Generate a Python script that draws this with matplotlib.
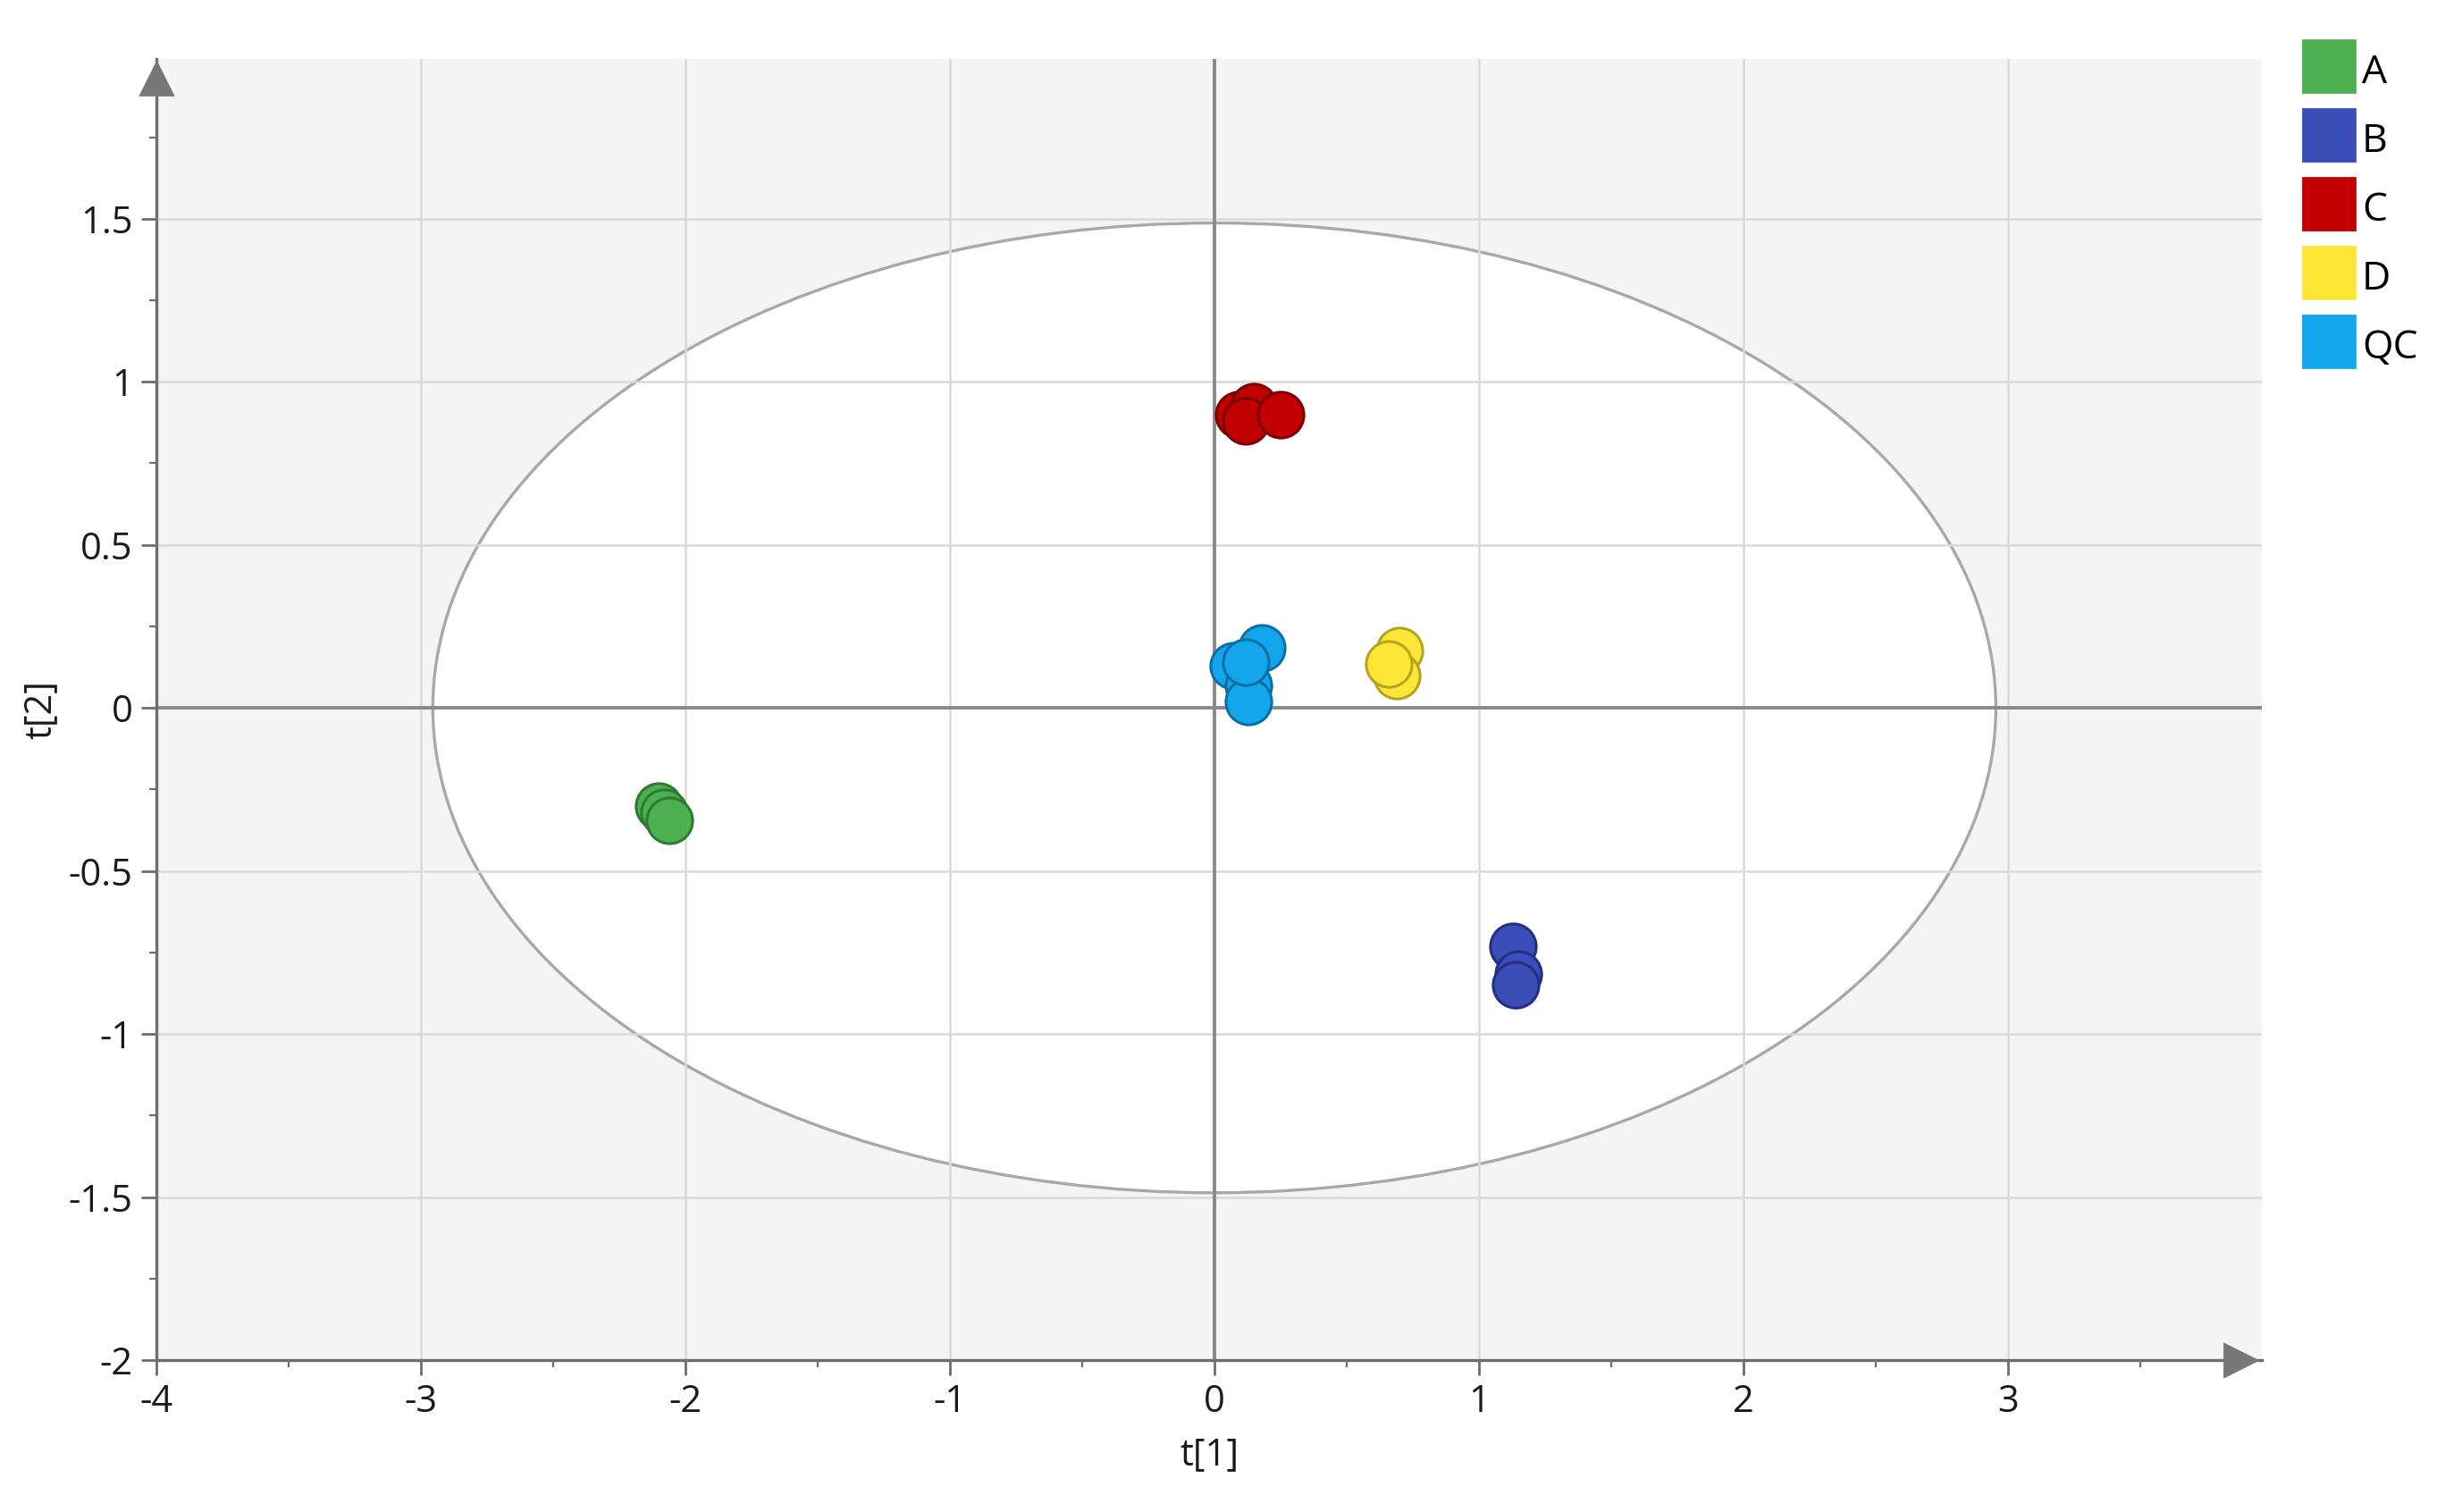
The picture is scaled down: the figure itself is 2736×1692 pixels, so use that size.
import matplotlib
matplotlib.use("Agg")
import matplotlib.pyplot as plt
from matplotlib.patches import Ellipse
from matplotlib.lines import Line2D
from matplotlib.ticker import MultipleLocator

plt.rcParams['font.family'] = ['Open Sans', 'DejaVu Sans']
plt.rcParams['axes.unicode_minus'] = False

# score values
groups = ['A', 'B', 'C', 'D', 'QC']
t1 = {
    'A': [-2.10, -2.08, -2.06],
    'B': [1.13, 1.15, 1.14],
    'C': [0.09, 0.15, 0.12, 0.25],
    'D': [0.70, 0.69, 0.66],
    'QC': [0.18, 0.07, 0.13, 0.13, 0.12],
}
t2 = {
    'A': [-0.30, -0.32, -0.345],
    'B': [-0.73, -0.815, -0.85],
    'C': [0.90, 0.925, 0.88, 0.90],
    'D': [0.175, 0.10, 0.134],
    'QC': [0.185, 0.13, 0.07, 0.02, 0.14],
}
colors = {'A': '#4cb050', 'B': '#3b4db8', 'C': '#c20000', 'D': '#fde636', 'QC': '#14a6ec'}
edges = {'A': '#2e7a32', 'B': '#232f80', 'C': '#7a0000', 'D': '#b5a420', 'QC': '#0a6fa3'}

x_ticks = [-4, -3, -2, -1, 0, 1, 2, 3]
x_labels = ['-4', '-3', '-2', '-1', '0', '1', '2', '3']
y_ticks = [-2, -1.5, -1, -0.5, 0, 0.5, 1, 1.5]
y_labels = ['-2', '-1.5', '-1', '-0.5', '0', '0.5', '1', '1.5']

# Hotelling T2 ellipse half axes
ell_w, ell_h = 2.955, 1.487

fig = plt.figure(figsize=(13.68, 8.46), dpi=200)
ax = fig.add_axes([0.064, 0.1005, 0.861, 0.8605])
ax.set_facecolor('#f4f4f4')
ax.set_xlim(-4, 3.96)
ax.set_ylim(-2, 1.99)

ax.add_patch(Ellipse((0, 0), 2 * ell_w, 2 * ell_h, facecolor='white',
                     edgecolor='#a8a8a8', lw=1.2, zorder=0.3))
ax.set_axisbelow(True)
ax.grid(True, color='#d9d9d9', lw=0.9)
ax.axhline(0, color='#8a8a8a', lw=1.4, zorder=1)
ax.axvline(0, color='#8a8a8a', lw=1.4, zorder=1)

for g in groups:
    ax.scatter(t1[g], t2[g], s=340, c=colors[g], edgecolors=edges[g],
               linewidths=1.1, zorder=3)

ax.set_xticks(x_ticks)
ax.set_xticklabels(x_labels)
ax.set_yticks(y_ticks)
ax.set_yticklabels(y_labels)
ax.xaxis.set_minor_locator(MultipleLocator(0.5))
ax.yaxis.set_minor_locator(MultipleLocator(0.25))
ax.tick_params(which='major', length=6, width=1.0, color='#6e6e6e',
               labelsize=15, labelcolor='#1a1a1a', direction='out')
ax.tick_params(which='minor', length=3, width=0.8, color='#6e6e6e')

for s in ['top', 'right']:
    ax.spines[s].set_visible(False)
for s in ['left', 'bottom']:
    ax.spines[s].set_color('#6e6e6e')
    ax.spines[s].set_linewidth(1.2)

# arrow heads at the end of the axes
ax.plot([0], [0.985], marker='^', ms=13, color='#777777', transform=ax.transAxes,
        clip_on=False, zorder=5)
ax.plot([0.99], [0], marker='>', ms=13, color='#777777', transform=ax.transAxes,
        clip_on=False, zorder=5)

ax.set_xlabel('t[1]', fontsize=15, color='#1a1a1a', labelpad=6)
ax.set_ylabel('t[2]', fontsize=15, color='#1a1a1a', labelpad=4)
ax.yaxis.set_label_coords(-0.046, 0.5)

handles = [Line2D([], [], marker='s', ls='', ms=21, color=colors[g]) for g in groups]
fig.legend(handles, groups, loc='upper left', bbox_to_anchor=(0.936, 0.978),
           frameon=False, fontsize=16, handlelength=1.25, handleheight=1.25,
           handletextpad=0.2, labelspacing=0.62, borderaxespad=0)

fig.savefig('out.png', dpi=200)
